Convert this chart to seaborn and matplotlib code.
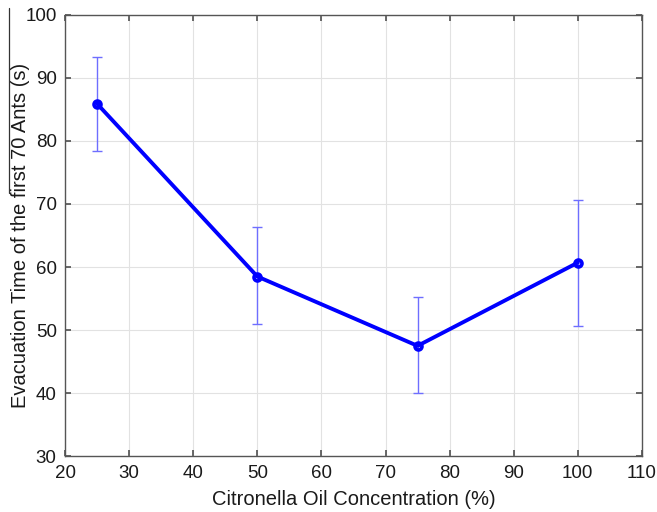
import numpy as np
import pandas as pd
import matplotlib
matplotlib.use("Agg")
import matplotlib.pyplot as plt
import seaborn as sns

concentration = [25, 50, 75, 100]
evac_time = [85.9, 58.5, 47.5, 60.7]
err_low = [78.4, 50.9, 40.0, 50.7]
err_high = [93.3, 66.3, 55.2, 70.6]

df = pd.DataFrame({"conc": concentration, "time": evac_time})
yerr = np.array([
    np.array(evac_time) - np.array(err_low),
    np.array(err_high) - np.array(evac_time),
])

sns.set_theme(style="whitegrid")
plt.rcParams["font.family"] = ["Liberation Sans", "DejaVu Sans"]

fig, ax = plt.subplots(figsize=(6.57, 5.12), dpi=100)
fig.subplots_adjust(left=0.099, right=0.977, top=0.971, bottom=0.109)

ax.errorbar(concentration, evac_time, yerr=yerr, fmt="none",
            ecolor="#6e6eff", elinewidth=1.0, capsize=3.5, capthick=1.0, zorder=2)
sns.lineplot(data=df, x="conc", y="time", ax=ax, color="#0000ff",
             linewidth=2.8, marker="o", markersize=5, markeredgewidth=2.6,
             markerfacecolor="none", markeredgecolor="#0000ff", zorder=3)

ax.set_xlim(20, 110)
ax.set_ylim(30, 100)
ax.set_xticks(range(20, 111, 10))
ax.set_yticks(range(30, 101, 10))
ax.grid(True, color="#e2e2e2", linewidth=0.8)
for s in ax.spines.values():
    s.set_color("#555555")
    s.set_linewidth(1.0)
ax.tick_params(axis="both", direction="in", length=4, color="#555555",
               labelsize=13.5, labelcolor="#1a1a1a",
               top=True, right=True, bottom=True, left=True)
ax.tick_params(axis="x", pad=6)
ax.tick_params(axis="y", pad=6)
ax.set_xlabel("Citronella Oil Concentration (%)", fontsize=14.5, color="#1a1a1a", labelpad=6)
ax.set_ylabel("Evacuation Time of the first 70 Ants (s)", fontsize=14.5, color="#1a1a1a")
ax.yaxis.set_label_coords(-0.060, 0.5)

# stray vertical stroke beside the y label in the original
fig.add_artist(plt.Line2D([9 / 657, 9 / 657], [1 - 8 / 512, 1 - 193 / 512],
                          color="#333333", linewidth=0.9, transform=fig.transFigure))

fig.savefig("out.png", dpi=100)
